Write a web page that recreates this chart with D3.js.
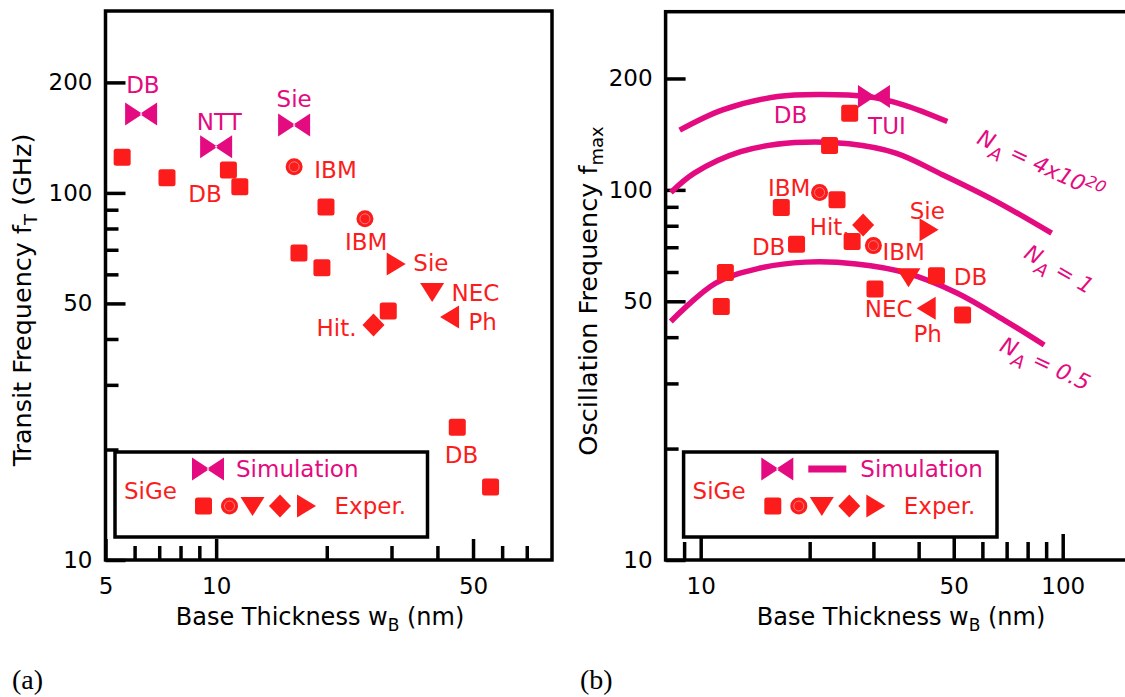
<!DOCTYPE html>
<html>
<head>
<meta charset="utf-8">
<script src="https://cdn.jsdelivr.net/npm/d3@7"></script>
<style>
  html, body { margin: 0; padding: 0; background: #fff; overflow: hidden; }
  svg text { font-family: "DejaVu Sans", sans-serif; }
</style>
</head>
<body>
<div id="wrapper"></div>
<script>
/* data: [base thickness nm, frequency GHz] */

// (a) transit frequency fT
const ftSim      = [[6.25, 164], [10, 133.5], [16.3, 153]];
const ftSquare   = [[5.55, 125], [7.35, 110], [10.8, 115.5], [11.6, 104], [19.9, 91.6],
                    [16.8, 68.6], [19.4, 62.5], [29.4, 47.7], [45.3, 23], [55.8, 15.8]];
const ftCircle   = [[16.3, 117.8], [25.4, 85]];
const ftTriRight = [[30.8, 64]];
const ftTriDown  = [[38.7, 53.7]];
const ftTriLeft  = [[43.3, 45.9]];
const ftDiamond  = [[26.8, 43.7]];
// label, x, y (cap centre), anchor, series
const ftLabels = [
  ["DB", 6.32, 197, "middle", "sim"], ["NTT", 10.2, 156, "middle", "sim"], ["Sie", 16.3, 180, "middle", "sim"],
  ["IBM", 18.5, 116, "start", "exp"], ["DB", 9.33, 99.4, "middle", "exp"], ["IBM", 25.6, 73.5, "middle", "exp"],
  ["Sie", 34.4, 64.5, "start", "exp"], ["NEC", 43.7, 53.4, "start", "exp"], ["Ph", 48.6, 44.5, "start", "exp"],
  ["Hit.", 24.1, 42.9, "end", "exp"], ["DB", 46.5, 19.4, "middle", "exp"]
];

// (b) oscillation frequency fmax
const fmSim      = [[30.1, 178.7]];
const fmSquare   = [[25.8, 161], [22.7, 131.8], [23.8, 94], [16.7, 89.6], [18.4, 71.3], [26.2, 72.5],
                    [11.7, 59.8], [44.8, 58.6], [30.3, 54], [11.4, 48.4], [52.9, 45.9]];
const fmCircle   = [[21.3, 98.4], [30, 70.7]];
const fmTriRight = [[42.6, 78]];
const fmTriDown  = [[37.5, 58.1]];
const fmTriLeft  = [[42.1, 47.9]];
const fmDiamond  = [[28.1, 80.4]];
const curveNA4e20 = [[8.75, 145], [11.5, 164.5], [16.3, 178.7], [21.4, 181], [28.8, 178.7], [36.3, 169.8], [48, 153]];
const curveNA1    = [[8.27, 98.4], [9.6, 111], [12.9, 126.9], [18.2, 134.2], [25.7, 133.2], [34.6, 125.7],
                     [45.6, 111], [64.3, 94], [93.2, 76.4]];
const curveNA05   = [[8.27, 44.1], [11, 56], [14.5, 61.4], [19.5, 63.8], [26.9, 63.1], [37.1, 59.6],
                     [51.2, 52.6], [68.9, 44.5], [88.9, 38.1]];
const fmLabels = [
  ["DB", 17.7, 159.5, "middle", "sim"], ["TUI", 29, 148.9, "start", "sim"],
  ["IBM", 15.35, 101.3, "start", "exp"], ["Hit.", 20, 79.4, "start", "exp"], ["DB", 13.85, 70.1, "start", "exp"],
  ["IBM", 31.8, 68, "start", "exp"], ["Sie", 37.8, 87.7, "start", "exp"], ["DB", 50, 58.2, "start", "exp"],
  ["NEC", 28.4, 47.7, "start", "exp"], ["Ph", 38.7, 40.8, "start", "exp"]
];
// curve label: main, sub, rest, superscript, x, y (baseline start), angle
const curveLabels = [
  ["N", "A", " = 4x10", "20", 57.5, 134, 25],
  ["N", "A", " = 1", "", 77.5, 65.9, 30],
  ["N", "A", " = 0.5", "", 66.5, 36.9, 25]
];

const xMinorA = [6, 7, 8, 9, 20, 30, 40, 60, 70];
const xMajorA = [5, 10, 50];
const xMinorB = [9, 20, 30, 40, 60, 70, 80, 90];
const xMajorB = [10, 50, 100];
const yMinor  = [20, 30, 40, 60, 70, 80, 90];
const yMajor  = [10, 50, 100, 200];

const red = "#fc1c1c";
const mag = "#e40a80";

const svg = d3.select("#wrapper").append("svg")
  .attr("width", 1125).attr("height", 697);

/* marker shapes */
function marker(g, type, px, py, color) {
  const m = g.append("g").attr("transform", `translate(${px},${py})`);
  if (type === "square") {
    m.append("rect").attr("x", -8.5).attr("y", -8.5).attr("width", 17).attr("height", 17)
      .attr("rx", 2.5).attr("fill", color);
  } else if (type === "circle") {
    m.append("circle").attr("r", 8.5).attr("fill", color);
    m.append("circle").attr("r", 5).attr("fill", "none").attr("stroke", "#ff7a7a").attr("stroke-width", 1);
  } else if (type === "triDown") {
    m.append("path").attr("d", "M-12,-9L12,-9L0,10Z").attr("fill", color);
  } else if (type === "triRight") {
    m.append("path").attr("d", "M-9,-11.5L-9,11.5L10,0Z").attr("fill", color);
  } else if (type === "triLeft") {
    m.append("path").attr("d", "M9,-11.5L9,11.5L-10,0Z").attr("fill", color);
  } else if (type === "diamond") {
    m.append("path").attr("d", "M0,-11.5L11,0L0,11.5L-11,0Z").attr("fill", color);
  } else if (type === "bowtie") {
    m.append("path").attr("d", "M-16,-11.5L-16,11.5L1.5,0Z M16,-11.5L16,11.5L-1.5,0Z").attr("fill", color);
  }
}

function panel(opts) {
  const g = svg.append("g");
  const x = opts.x, y = opts.y;
  const [x0, x1] = x.range(), [y0, y1] = y.range();

  // frame
  g.append("rect").attr("x", x0).attr("y", y1).attr("width", x1 - x0).attr("height", y0 - y1)
    .attr("fill", "none").attr("stroke", "#000").attr("stroke-width", 3.5);

  // axes, ticks pointing inwards
  const style = sel => {
    sel.select(".domain").remove();
    sel.selectAll("line").attr("stroke", "#000").attr("stroke-width", 3.5);
    sel.selectAll("text").attr("fill", "#000").style("font-size", "23px");
  };
  g.append("g").attr("transform", `translate(0,${y0})`)
    .call(d3.axisBottom(x).tickValues(opts.xMinor).tickSize(-opts.xMinorLen).tickFormat(""))
    .call(style);
  g.append("g").attr("transform", `translate(0,${y0})`)
    .call(d3.axisBottom(x).tickValues(opts.xMajor).tickSizeInner(-opts.xMajorLen).tickSizeOuter(0)
      .tickPadding(18).tickFormat(d3.format("d")))
    .call(style);
  g.append("g").attr("transform", `translate(${x0},0)`)
    .call(d3.axisLeft(y).tickValues(yMinor).tickSize(-13).tickFormat(""))
    .call(style);
  g.append("g").attr("transform", `translate(${x0},0)`)
    .call(d3.axisLeft(y).tickValues(yMajor).tickSizeInner(-20).tickSizeOuter(0)
      .tickPadding(13).tickFormat(d3.format("d")))
    .call(style);

  // axis titles
  const xt = g.append("text").attr("x", opts.xTitleX).attr("y", 625)
    .attr("text-anchor", "middle").style("font-size", "24px").attr("fill", "#000");
  xt.append("tspan").text("Base Thickness w");
  xt.append("tspan").attr("dy", 6).style("font-size", "17px").text("B");
  xt.append("tspan").attr("dy", -6).text(" (nm)");

  const yt = g.append("text")
    .attr("transform", `translate(${opts.yTitleX},${opts.yTitleY}) rotate(-90)`)
    .attr("text-anchor", "middle").style("font-size", "25.5px").attr("fill", "#000");
  yt.append("tspan").text(opts.yTitle[0]);
  yt.append("tspan").attr("dy", 6).style("font-size", "18px").text(opts.yTitle[1]);
  yt.append("tspan").attr("dy", -6).text(opts.yTitle[2]);

  // panel letter
  g.append("text").attr("x", opts.letterX).attr("y", 689).text(opts.letter)
    .style("font-family", "'Liberation Serif', 'Times New Roman', serif").style("font-size", "28px")
    .attr("fill", "#000");

  return g;
}

/* ---------- (a) ---------- */
const xA = d3.scaleLog().domain([5, 82]).range([105.5, 552]);
const yA = d3.scaleLog().domain([10, 313]).range([560, 11]);
const gA = panel({
  x: xA, y: yA, xMinor: xMinorA, xMajor: xMajorA, xMinorLen: 14, xMajorLen: 21,
  xTitleX: 320, yTitleX: 31, yTitleY: 300, yTitle: ["Transit Frequency f", "T", " (GHz)"],
  letter: "(a)", letterX: 12
});

/* ---------- (b) ---------- */
const xB = d3.scaleLog().domain([8, 160]).range([665.6, 1136.6]);
const yB = d3.scaleLog().domain([10, 303]).range([560, 11.7]);
const gB = panel({
  x: xB, y: yB, xMinor: xMinorB, xMajor: xMajorB, xMinorLen: 18, xMajorLen: 26,
  xTitleX: 901, yTitleX: 597, yTitleY: 291, yTitle: ["Oscillation Frequency f", "max", ""],
  letter: "(b)", letterX: 580
});

/* simulation curves */
const line = d3.line().x(d => xB(d[0])).y(d => yB(d[1])).curve(d3.curveCatmullRom);
[curveNA4e20, curveNA1, curveNA05].forEach(c => {
  gB.append("path").attr("d", line(c)).attr("fill", "none")
    .attr("stroke", mag).attr("stroke-width", 5.5);
});
curveLabels.forEach(l => {
  const t = gB.append("text")
    .attr("transform", `translate(${xB(l[4])},${yB(l[5])}) rotate(${l[6]})`)
    .attr("fill", mag).style("font-size", "22px").style("font-style", "italic");
  t.append("tspan").text(l[0]);
  t.append("tspan").attr("dy", 8).style("font-size", "18px").text(l[1]);
  t.append("tspan").attr("dy", -8).text(l[2]);
  if (l[3]) t.append("tspan").attr("dy", -8).style("font-size", "16px").text(l[3]);
});

/* points */
function points(g, x, y, set) {
  set.forEach(([data, type, color]) => {
    data.forEach(d => marker(g, type, x(d[0]), y(d[1]), color));
  });
}
points(gA, xA, yA, [
  [ftSim, "bowtie", mag], [ftSquare, "square", red], [ftCircle, "circle", red],
  [ftTriRight, "triRight", red], [ftTriDown, "triDown", red], [ftTriLeft, "triLeft", red],
  [ftDiamond, "diamond", red]
]);
points(gB, xB, yB, [
  [fmSquare, "square", red], [fmCircle, "circle", red],
  [fmTriRight, "triRight", red], [fmTriDown, "triDown", red], [fmTriLeft, "triLeft", red],
  [fmDiamond, "diamond", red], [fmSim, "bowtie", mag]
]);

function labels(g, x, y, list) {
  g.selectAll(null).data(list).enter().append("text")
    .attr("x", d => x(d[1])).attr("y", d => y(d[2])).attr("dy", "0.36em")
    .attr("text-anchor", d => d[3])
    .attr("fill", d => d[4] === "sim" ? mag : red)
    .style("font-size", "23px")
    .text(d => d[0]);
}
labels(gA, xA, yA, ftLabels);
labels(gB, xB, yB, fmLabels);

/* legends */
function legend(g, left, right, withLine) {
  g.append("rect").attr("x", left).attr("y", 452).attr("width", right - left).attr("height", 85)
    .attr("fill", "#fff").attr("stroke", "#000").attr("stroke-width", 3.5);
  g.append("text").attr("x", left + 9).attr("y", 491).attr("dy", "0.36em")
    .attr("fill", red).style("font-size", "23px").text("SiGe");
  const bx = left + (withLine ? 93.7 : 93);
  marker(g, "bowtie", bx, 469, mag);
  let sx = bx + 28;
  if (withLine) {
    g.append("line").attr("x1", bx + 31).attr("x2", bx + 69).attr("y1", 469).attr("y2", 469)
      .attr("stroke", mag).attr("stroke-width", 7);
    sx = bx + 83;
  }
  g.append("text").attr("x", sx).attr("y", 469).attr("dy", "0.36em")
    .attr("fill", mag).style("font-size", "23px").text("Simulation");
  const kinds = ["square", "circle", "triDown", "diamond", "triRight"];
  const step = [0, 26, 49, 76.5, 102.5];
  const mx = bx - 4.5;
  kinds.forEach((k, i) => marker(g, k, mx + step[i], 506, red));
  g.append("text").attr("x", mx + 131).attr("y", 506).attr("dy", "0.36em")
    .attr("fill", red).style("font-size", "23px").text("Exper.");
}
legend(gA, 115, 427.5, false);
legend(gB, 683.6, 997, true);
</script>
</body>
</html>
